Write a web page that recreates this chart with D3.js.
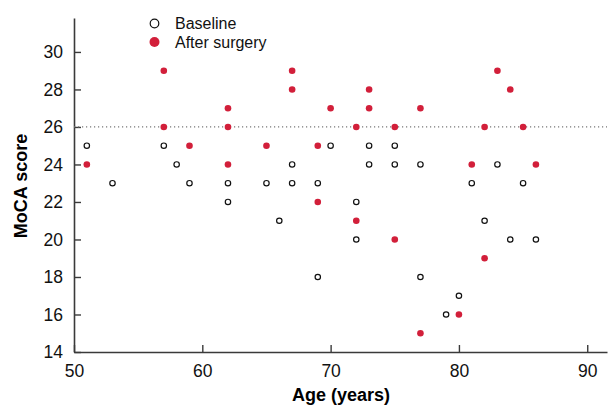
<!DOCTYPE html>
<html>
<head>
<meta charset="utf-8">
<script src="https://cdn.jsdelivr.net/npm/d3@7"></script>
<style>
  body { margin: 0; background: #fff; }
  text { font-family: "Liberation Sans", Arial, sans-serif; }
</style>
</head>
<body>
<svg width="610" height="406"></svg>
<script>
// baseline scores (age, MoCA)
var baseAge = [51, 53, 57, 58, 59, 62, 62, 65, 66, 67, 67, 69, 69, 70, 72, 72, 73, 73, 75, 75, 77, 77, 79, 80, 81, 82, 83, 84, 85, 86];
var baseScore = [25, 23, 25, 24, 23, 23, 22, 23, 21, 24, 23, 23, 18, 25, 22, 20, 25, 24, 25, 24, 24, 18, 16, 17, 23, 21, 24, 20, 23, 20];
// after surgery
var postAge = [51, 57, 57, 59, 62, 62, 62, 65, 67, 67, 69, 69, 70, 72, 72, 73, 73, 75, 75, 77, 77, 80, 81, 82, 82, 83, 84, 85, 86];
var postScore = [24, 29, 26, 25, 27, 26, 24, 25, 29, 28, 25, 22, 27, 26, 21, 28, 27, 26, 20, 27, 15, 16, 24, 26, 19, 29, 28, 26, 24];
var xTicks = [50, 60, 70, 80, 90];
var yTicks = [14, 16, 18, 20, 22, 24, 26, 28, 30];
var cutoff = 26;

var svg = d3.select("svg");
var red = "#d21f3a", axisCol = "#3a3a3a";

var x = d3.scaleLinear().domain([50, 91.54]).range([74, 607]);
var y = d3.scaleLinear().domain([14, 31.81]).range([352, 18]);

// axes (ticks pointing inward)
var xAxis = svg.append("g").attr("transform", "translate(0,352)")
  .call(d3.axisBottom(x).tickValues(xTicks).tickSizeInner(-7).tickSizeOuter(0).tickPadding(13));
var yAxis = svg.append("g").attr("transform", "translate(74,0)")
  .call(d3.axisLeft(y).tickValues(yTicks).tickSizeInner(-7).tickSizeOuter(0).tickPadding(11));

[xAxis, yAxis].forEach(function(a) {
  a.select(".domain").attr("stroke", axisCol).attr("stroke-width", 1.6);
  a.selectAll(".tick line").attr("stroke", axisCol).attr("stroke-width", 1.4);
  a.selectAll(".tick text").attr("fill", "#111").style("font-size", "17.5px")
    .style("font-family", "Liberation Sans, Arial, sans-serif");
});
xAxis.selectAll(".tick text").attr("dy", "0.71em");

// cutoff line
svg.append("line")
  .attr("x1", x(50)).attr("x2", x(91.54))
  .attr("y1", y(cutoff)).attr("y2", y(cutoff))
  .attr("stroke", "#777").attr("stroke-width", 1.2)
  .attr("stroke-dasharray", "1.2,2.8");

// baseline points
svg.append("g").selectAll("circle")
  .data(d3.range(baseAge.length))
  .enter().append("circle")
  .attr("cx", function(i) { return x(baseAge[i]); })
  .attr("cy", function(i) { return y(baseScore[i]); })
  .attr("r", 2.7)
  .attr("fill", "#fff")
  .attr("stroke", "#111")
  .attr("stroke-width", 1.2);

// after surgery points
svg.append("g").selectAll("circle")
  .data(d3.range(postAge.length))
  .enter().append("circle")
  .attr("cx", function(i) { return x(postAge[i]); })
  .attr("cy", function(i) { return y(postScore[i]); })
  .attr("r", 3.3)
  .attr("fill", red);

// legend
var leg = svg.append("g");
leg.append("circle").attr("cx", 154.5).attr("cy", 23.5).attr("r", 4.3)
  .attr("fill", "#fff").attr("stroke", "#111").attr("stroke-width", 1.2);
leg.append("circle").attr("cx", 154.5).attr("cy", 42).attr("r", 5).attr("fill", red);
leg.append("text").attr("x", 175).attr("y", 28.5)
  .style("font-size", "16px").attr("fill", "#111").text("Baseline");
leg.append("text").attr("x", 175).attr("y", 47.5)
  .style("font-size", "16px").attr("fill", "#111").text("After surgery");

// axis titles
svg.append("text").attr("x", 341).attr("y", 401)
  .attr("text-anchor", "middle").style("font-size", "18px").style("font-weight", "bold")
  .text("Age (years)");
svg.append("text").attr("transform", "translate(27,186) rotate(-90)")
  .attr("text-anchor", "middle").style("font-size", "18px").style("font-weight", "bold")
  .text("MoCA score");
</script>
</body>
</html>
